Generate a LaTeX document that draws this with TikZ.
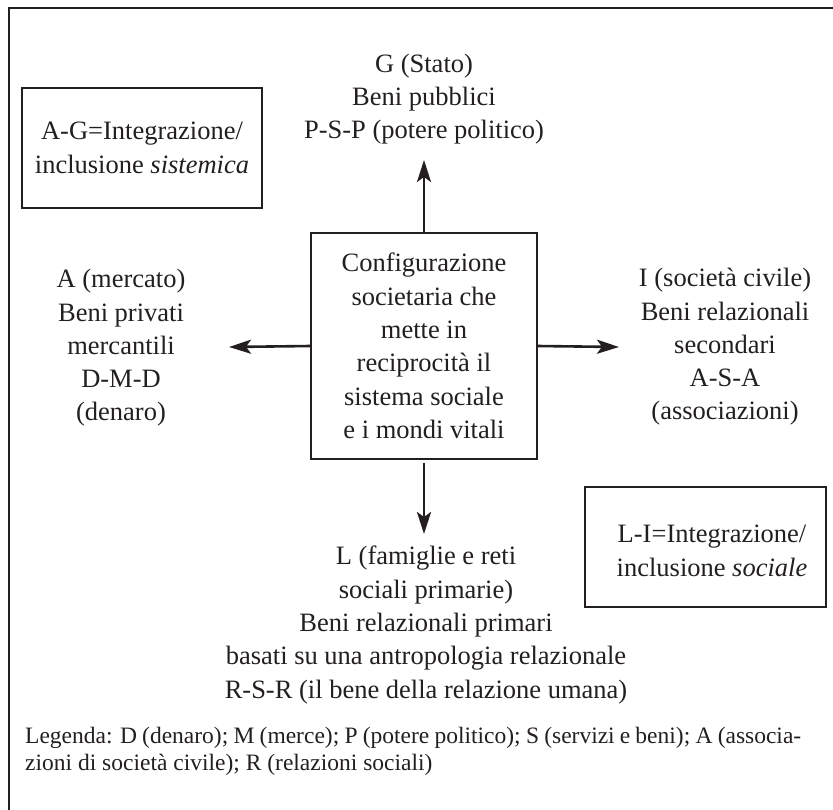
\documentclass[tikz,border=0pt]{standalone}
\usepackage{fontspec}
\setmainfont{Liberation Serif}
\usetikzlibrary{arrows.meta}
\definecolor{ink}{HTML}{231F20}
\begin{document}
\begin{tikzpicture}[x=1pt,y=-1pt,
  every node/.style={text=ink, inner sep=0pt},
  txt/.style={align=center, font=\fontsize{26.5}{33.3}\selectfont},
  framebox/.style={draw=ink, line width=1.4pt},
  link/.style={draw=ink, line width=2.6pt, -{Stealth[length=22pt,width=14pt,inset=5pt]}},
  legend/.style={font=\fontsize{23.5}{27}\selectfont, anchor=base west}]
\useasboundingbox (0,0) rectangle (833,809);
% outer frame (open towards right and bottom)
\draw[ink, line width=2pt] (9,820) -- (9,8) -- (845,8);

% central box
\node[framebox, txt, minimum width=226pt, minimum height=226pt] (cfg) at (424,346)
  {Configurazione\\societaria che\\mette in\\reciprocità il\\sistema sociale\\e i mondi vitali};

% four poles
\node[txt] (G) at (424,99) {G (Stato)\\Beni pubblici\\P-S-P (potere politico)};
\node[txt] (A) at (121,348) {A (mercato)\\Beni privati\\mercantili\\D-M-D\\(denaro)};
\node[txt] (I) at (725,347) {I (società civile)\\Beni relazionali\\secondari\\A-S-A\\(associazioni)};
\node[txt] (L) at (426,625) {L (famiglie e reti\\sociali primarie)\\Beni relazionali primari\\basati su una antropologia relazionale\\R-S-R (il bene della relazione umana)};

% arrow tips
\coordinate (tG) at (424,160);
\coordinate (tA) at (229,347);
\coordinate (tI) at (619,347);
\coordinate (tL) at (424,534);
\draw[link] (cfg.north) -- (tG);
\draw[link] (cfg.west) -- (tA);
\draw[link] (cfg.east) -- (tI);
\draw[link] ([yshift=-3pt]cfg.south) -- (tL);

% integration boxes
\node[framebox, txt, minimum width=240pt, minimum height=120pt] (AG) at (142,148)
  {A-G=Integrazione/\\inclusione \textit{sistemica}};
\node[framebox, minimum width=241pt, minimum height=120pt] (LI) at (705.5,547) {};
\node[txt] (LItext) at (712,551) {L-I=Integrazione/\\inclusione \textit{sociale}};

% legend
\node[legend] (leg1) at (25,743)
  {\makebox[776pt][s]{Legenda: D (denaro); M (merce); P (potere politico); S (servizi e beni); A (associa-}};
\node[legend] (leg2) at (25,770)
  {zioni di società civile); R (relazioni sociali)};
\end{tikzpicture}
\end{document}
